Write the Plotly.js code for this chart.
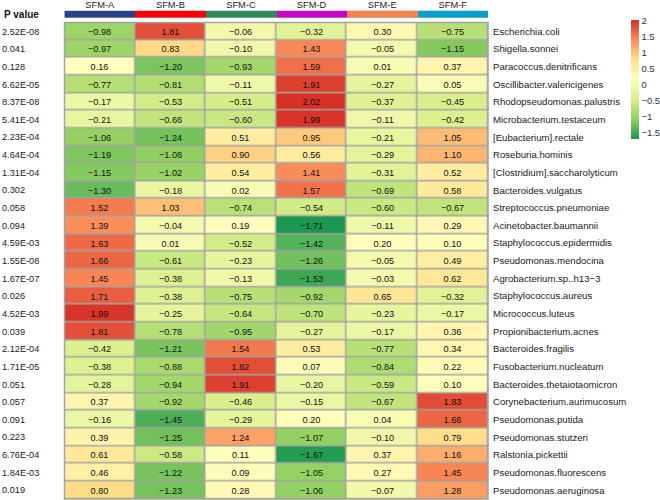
<!DOCTYPE html>
<html>
<head>
<meta charset="utf-8">
<script src="https://cdn.plot.ly/plotly-3.0.1.min.js"></script>
<style>html,body{margin:0;padding:0;background:#fff;}#chart{width:660px;height:500px;}</style>
</head>
<body>
<div id="chart"></div>
<script>
var groups = ['SFM-A','SFM-B','SFM-C','SFM-D','SFM-E','SFM-F'];
var groupColors = ['#27408E','#FF0000','#2E8B57','#CC00CC','#F4844A','#04A0D0'];
var species = ['Escherichia.coli','Shigella.sonnei','Paracoccus.denitrificans','Oscillibacter.valericigenes',
 'Rhodopseudomonas.palustris','Microbacterium.testaceum','[Eubacterium].rectale','Roseburia.hominis',
 '[Clostridium].saccharolyticum','Bacteroides.vulgatus','Streptococcus.pneumoniae','Acinetobacter.baumannii',
 'Staphylococcus.epidermidis','Pseudomonas.mendocina','Agrobacterium.sp..h13\u22123','Staphylococcus.aureus',
 'Micrococcus.luteus','Propionibacterium.acnes','Bacteroides.fragilis','Fusobacterium.nucleatum',
 'Bacteroides.thetaiotaomicron','Corynebacterium.aurimucosum','Pseudomonas.putida','Pseudomonas.stutzeri',
 'Ralstonia.pickettii','Pseudomonas.fluorescens','Pseudomonas.aeruginosa'];
var pValues = ['2.52E-08','0.041','0.128','6.62E-05','8.37E-08','5.41E-04','2.23E-04','4.64E-04','1.31E-04',
 '0.302','0.058','0.094','4.59E-03','1.55E-08','1.67E-07','0.026','4.52E-03','0.039','2.12E-04','1.71E-05',
 '0.051','0.057','0.091','0.223','6.76E-04','1.84E-03','0.019'];
var sfmA = [-0.98,-0.97,0.16,-0.77,-0.17,-0.21,-1.06,-1.19,-1.15,-1.30,1.52,1.39,1.63,1.66,1.45,1.71,1.99,1.81,-0.42,-0.38,-0.28,0.37,-0.16,0.39,0.61,0.46,0.80];
var sfmB = [1.81,0.83,-1.20,-0.81,-0.53,-0.66,-1.24,-1.08,-1.02,-0.18,1.03,-0.04,0.01,-0.61,-0.38,-0.38,-0.25,-0.78,-1.21,-0.88,-0.94,-0.92,-1.45,-1.25,-0.58,-1.22,-1.23];
var sfmC = [-0.06,-0.10,-0.93,-0.11,-0.51,-0.60,0.51,0.90,0.54,0.02,-0.74,0.19,-0.52,-0.23,-0.13,-0.75,-0.64,-0.95,1.54,1.82,1.91,-0.46,-0.29,1.24,0.11,0.09,0.28];
var sfmD = [-0.32,1.43,1.59,1.91,2.02,1.99,0.95,0.56,1.41,1.57,-0.54,-1.71,-1.42,-1.26,-1.53,-0.92,-0.70,-0.27,0.53,0.07,-0.20,-0.15,0.20,-1.07,-1.67,-1.05,-1.06];
var sfmE = [0.30,-0.05,0.01,-0.27,-0.37,-0.11,-0.21,-0.29,-0.31,-0.69,-0.60,-0.11,0.20,-0.05,-0.03,0.65,-0.23,-0.17,-0.77,-0.84,-0.59,-0.67,0.04,-0.10,0.37,0.27,-0.07];
var sfmF = [-0.75,-1.15,0.37,0.05,-0.45,-0.42,1.05,1.10,0.52,0.58,-0.67,0.29,0.10,0.49,0.62,-0.32,-0.17,0.36,0.34,0.22,0.10,1.83,1.66,0.79,1.16,1.45,1.28];

var cols = [sfmA,sfmB,sfmC,sfmD,sfmE,sfmF];
var z = species.map(function(s,i){ return cols.map(function(c){ return c[i]; }); });
var txt = z.map(function(r){ return r.map(function(v){ return v.toFixed(2).replace('-', '\u2212'); }); });
var idx = species.map(function(s,i){ return i; });

var FONT = 'Liberation Sans, Arial, Helvetica, sans-serif';
var scale = [[0,'#1A9850'],[1/6,'#91CF60'],[2/6,'#D9EF8B'],[3/6,'#FFFFBF'],[4/6,'#FEE08B'],[5/6,'#FC8D59'],[1,'#D73027']];
var n = groupColors.length;
var stripScale = [];
groupColors.forEach(function(c,i){
  var a = i===0 ? 0 : (i-0.5)/(n-1);
  var b = i===n-1 ? 1 : (i+0.5)/(n-1);
  stripScale.push([a,c]); stripScale.push([b,c]);
});

var H = 499;
function py(p){ return (H - p)/H; }

var data = [
  {type:'heatmap', x:groups, y:species, z:z, text:txt, texttemplate:'%{text}',
   textfont:{family:FONT, size:9.2, color:'#111'}, colorscale:scale,
   zmin:-1.71, zmax:2.02, xgap:1.5, ygap:1.5, hoverinfo:'skip',
   colorbar:{x:631/660, xanchor:'left', xpad:0, y:py(20), yanchor:'top', ypad:0,
     len:119, lenmode:'pixels', thickness:8, outlinewidth:0, ticks:'',
     tick0:0, dtick:0.5, tickfont:{family:FONT, size:9.5, color:'#333'}}},
  {type:'heatmap', x:groups, y:['h'], z:[groups.map(function(g,i){return i;})],
   colorscale:stripScale, zmin:0, zmax:n-1, showscale:false, yaxis:'y3', hoverinfo:'skip'},
  {type:'scatter', x:[], y:[], yaxis:'y2', showlegend:false, hoverinfo:'skip'}
];

var layout = {
  width:660, height:500,
  margin:{l:0, r:0, t:0, b:1, pad:0},
  paper_bgcolor:'#fff', plot_bgcolor:'#A3A3A3',
  font:{family:FONT, size:9, color:'#222'},
  showlegend:false,
  xaxis:{domain:[64.5/660, 488/660], anchor:'y3', side:'top', type:'category',
    showgrid:false, zeroline:false, showline:false, ticks:'',
    tickfont:{family:FONT, size:9.3, color:'#222'}},
  yaxis:{domain:[0, py(22.5)], anchor:'x', side:'right', type:'category',
    range:[species.length-0.5, -0.5], showgrid:false, zeroline:false, showline:false, ticks:'',
    ticklabelstandoff:4,
    tickfont:{family:FONT, size:9.6, color:'#1a1a1a'}},
  yaxis2:{overlaying:'y', anchor:'free', position:0, side:'right',
    range:[species.length-0.5, -0.5], tickmode:'array', tickvals:idx, ticktext:pValues,
    showgrid:false, zeroline:false, showline:false, ticks:'', ticklabelstandoff:1,
    tickfont:{family:FONT, size:9.2, color:'#222'}},
  yaxis3:{domain:[py(17.7), py(10.7)], anchor:'x', showticklabels:false,
    showgrid:false, zeroline:false, showline:false, ticks:''},
  shapes:[{type:'rect', xref:'x domain', yref:'y domain', x0:0, x1:1, y0:0, y1:1,
    line:{color:'#A3A3A3', width:1.5}, fillcolor:'rgba(0,0,0,0)'}],
  annotations:[{text:'<b>P value</b>', xref:'paper', yref:'paper', x:2/660, y:py(14),
    xanchor:'left', yanchor:'middle', showarrow:false, font:{family:FONT, size:10, color:'#111'}}]
};

Plotly.newPlot('chart', data, layout, {staticPlot:true, displayModeBar:false});
</script>
</body>
</html>
